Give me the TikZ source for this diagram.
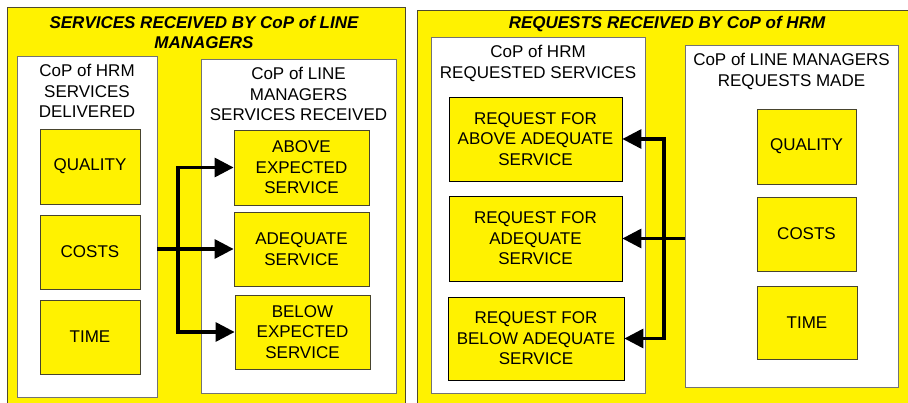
\documentclass[tikz,border=0pt]{standalone}
\usepackage{fontspec}
\setmainfont{Liberation Sans}
\usetikzlibrary{arrows.meta,calc}

\begin{document}
\begin{tikzpicture}[x=1pt,y=-1pt,
			every node/.style={font=\fontsize{17}{20.5}\selectfont, inner sep=0pt},
			panel/.style={rectangle, draw=black!60!olive, fill=yellow, line width=0.8pt},
			frame/.style={rectangle, draw=black!55, fill=white, line width=0.8pt},
			cell/.style={rectangle, draw=black!65!olive, fill=yellow, line width=0.8pt, align=center},
			req/.style={cell, draw=black},
			head/.style={anchor=north, align=center, yshift=-8.5pt},
			title/.style={align=center, font=\fontsize{17}{20.5}\selectfont\bfseries\itshape},
			flow/.style={black, line width=3.2pt, line join=miter, -{Triangle[length=19pt,width=19pt]}},
			twoway/.style={flow, {Triangle[length=19pt,width=19pt]}-{Triangle[length=19pt,width=19pt]}}]
		\useasboundingbox (0,0) rectangle (908,403);
		% the two halves
		\path 	(206,206.5) 	node 	(panelL) [panel, minimum width=398pt, minimum height=399pt] {}
		        (664.5,208) 	node 	(panelR) [panel, minimum width=495pt, minimum height=396pt] {};
		\path 	(204,32.5) 	node 	(titleL) [title] {SERVICES RECEIVED BY CoP of LINE\\MANAGERS}
		        (667,24) 	node 	(titleR) [title] {REQUESTS RECEIVED BY CoP of HRM};
		% services received
		\path 	(87,226.5) 	node 	(hrmL) [frame, minimum width=140pt, minimum height=341pt,
		                label={[head]north:{CoP of HRM\\SERVICES\\DELIVERED}}] {}
		        (298.5,226) 	node 	(lmL) [frame, minimum width=195pt, minimum height=334pt,
		                label={[head]north:{CoP of LINE\\MANAGERS\\SERVICES RECEIVED}}] {};
		\path 	(90,166.5) 	node 	(qualL) [cell, minimum width=100pt, minimum height=75pt] {QUALITY}
		        (90,252) 	node 	(costL) [cell, minimum width=100pt, minimum height=74pt] {COSTS}
		        (90,337) 	node 	(timeL) [cell, minimum width=100pt, minimum height=74pt] {TIME};
		\path 	(301.5,167.5) 	node 	(above) [cell, minimum width=135pt, minimum height=75pt] {ABOVE\\EXPECTED\\SERVICE}
		        (301.5,249) 	node 	(adeq) [cell, minimum width=135pt, minimum height=74pt] {ADEQUATE\\SERVICE}
		        (302.5,332) 	node 	(below) [cell, minimum width=135pt, minimum height=74pt] {BELOW\\EXPECTED\\SERVICE};
		% requests received
		\path 	(538,215) 	node 	(hrmR) [frame, minimum width=214pt, minimum height=356pt,
		                label={[head]north:{CoP of HRM\\REQUESTED SERVICES}}] {}
		        (791.5,216) 	node 	(lmR) [frame, minimum width=213pt, minimum height=342pt,
		                label={[head]north:{CoP of LINE MANAGERS\\REQUESTS MADE}}] {};
		\path 	(535.5,139) 	node 	(reqA) [req, minimum width=173pt, minimum height=84pt] {REQUEST FOR\\ABOVE ADEQUATE\\SERVICE}
		        (535.5,238.5) 	node 	(reqB) [req, minimum width=173pt, minimum height=85pt] {REQUEST FOR\\ADEQUATE\\SERVICE}
		        (536,338.5) 	node 	(reqC) [req, minimum width=176pt, minimum height=83pt] {REQUEST FOR\\BELOW ADEQUATE\\SERVICE};
		\path 	(806.5,146.5) 	node 	(qualR) [cell, minimum width=99pt, minimum height=75pt] {QUALITY}
		        (806.5,234) 	node 	(costR) [cell, minimum width=99pt, minimum height=74pt] {COSTS}
		        (807,322.5) 	node 	(timeR) [cell, minimum width=100pt, minimum height=73pt] {TIME};
		% connectors
		\coordinate (jL) at (178,249);
		\coordinate (jR) at (664,238);
		\draw [twoway] (above.west) -- (jL |- above.west) -- (jL |- below.west) -- (below.west);
		\draw [flow] (hrmL.east |- adeq.west) -- (adeq.west);
		\draw [twoway] (reqA.east) -- (jR |- reqA.east) -- (jR |- reqC.east) -- (reqC.east);
		\draw [flow] (lmR.west |- reqB.east) -- (reqB.east);
	\end{tikzpicture}
\end{document}
